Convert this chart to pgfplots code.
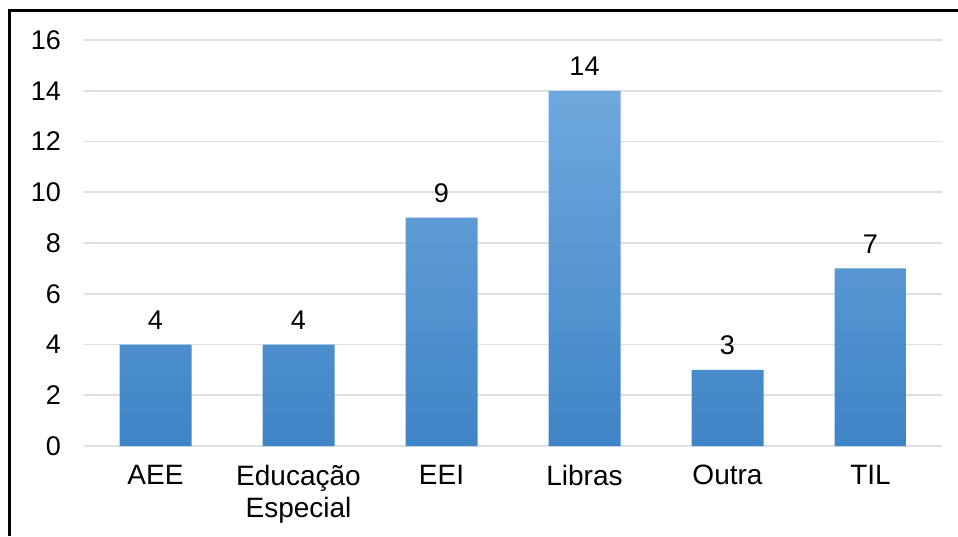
\documentclass[border=0pt]{standalone}
\usepackage{fontspec}
\setmainfont{Liberation Sans}
\usepackage{pgfplots}
\pgfplotsset{compat=1.18}

\definecolor{gridgray}{HTML}{DCDFE6}
\definecolor{bartop}{HTML}{6FA8DD}
\definecolor{barmid}{HTML}{589AD7}
\definecolor{barbot}{HTML}{3F84C6}

\begin{document}
\begin{tikzpicture}
\useasboundingbox (-42pt,-45pt) rectangle (437pt,223pt);
\begin{axis}[
    at={(0,0)}, anchor=south west,
    scale only axis, width=429pt, height=203pt,
    ybar, bar width=36pt,
    xmin=-0.5, xmax=5.5, ymin=0, ymax=16,
    xtick=data,
    xticklabels={AEE, {Educação\\Especial}, EEI, Libras, Outra, TIL},
    x tick label style={align=center, font=\fontsize{14}{16}\selectfont, yshift=-6pt},
    ytick={0,2,...,16},
    y tick label style={font=\fontsize{13.5}{15}\selectfont, xshift=-8pt},
    /pgf/number format/assume math mode=true,
    major tick length=0pt,
    axis line style={draw=none},
    ymajorgrids, major grid style={gridgray, line width=0.8pt},
    nodes near coords,
    every node near coord/.append style={font=\fontsize{13.5}{15}\selectfont, yshift=4pt},
    clip=false,
]
\addplot[draw=none, top color=bartop, middle color=barmid, bottom color=barbot, shading=axis]
    coordinates {(0,4) (1,4) (2,9) (3,14) (4,3) (5,7)};
\end{axis}
\draw[line width=1.5pt] (-37pt,-45pt) -- (-37pt,217.5pt) -- (437pt,217.5pt);
\end{tikzpicture}
\end{document}
